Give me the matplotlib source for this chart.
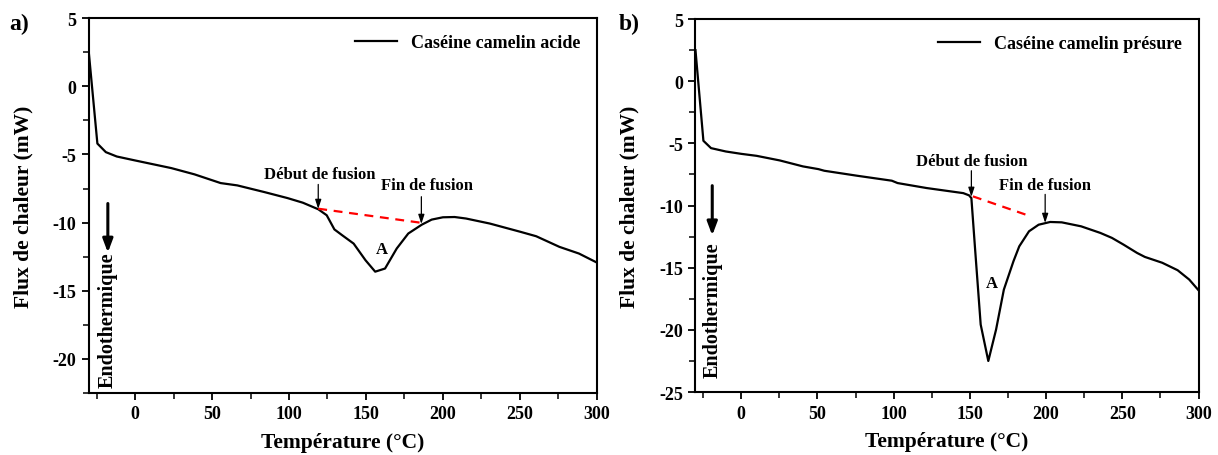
import matplotlib
matplotlib.use("Agg")
import matplotlib.pyplot as plt
from matplotlib.ticker import MultipleLocator

plt.rcParams["font.family"] = ["Liberation Serif", "DejaVu Serif"]
plt.rcParams["font.weight"] = "bold"
plt.rcParams["axes.unicode_minus"] = False

# Courbe a) : caséine camelin acide
temp_a = [-30, -24.5, -19, -11.9, 0, 23.5, 38.6, 55.6, 66.4, 84, 99, 109, 119,
          124.5, 129.5, 134.6, 142, 149.7, 156, 162.4, 170, 177.5, 186.3, 192.7,
          200, 207.6, 215, 230.5, 250.5, 260.6, 275.7, 288.4, 300]
flux_a = [2.4, -4.2, -4.83, -5.15, -5.44, -6.0, -6.46, -7.1, -7.27, -7.76, -8.2,
          -8.54, -9.02, -9.46, -10.5, -10.93, -11.54, -12.76, -13.6, -13.37, -11.9,
          -10.8, -10.15, -9.78, -9.61, -9.59, -9.7, -10.07, -10.68, -11.0, -11.78,
          -12.27, -12.93]

# Courbe b) : caséine camelin présure
temp_b = [-30, -24.8, -19.8, -10.1, 0, 10.1, 25.3, 40.5, 50.7, 54.5, 76, 98.8,
          102.6, 121.6, 145.7, 149.5, 151, 153.3, 157.1, 162.1, 167.2, 172.3,
          178.6, 182.4, 188.8, 195.1, 202.7, 210.3, 223, 235.6, 243.2, 250.8,
          259.7, 264.8, 276.2, 286.3, 293.9, 300]
flux_b = [2.5, -4.79, -5.38, -5.65, -5.84, -6.0, -6.37, -6.85, -7.07, -7.2, -7.6,
          -8.0, -8.19, -8.59, -9.0, -9.18, -9.4, -13.28, -19.57, -22.5, -19.97,
          -16.76, -14.48, -13.28, -12.07, -11.54, -11.32, -11.35, -11.67, -12.2,
          -12.6, -13.14, -13.81, -14.13, -14.6, -15.2, -15.95, -16.81]

# lignes de base (début -> fin de fusion)
base_a_x = [119, 185]
base_a_y = [-8.98, -10.0]
base_b_x = [152, 190]
base_b_y = [-9.26, -10.87]

fig = plt.figure(figsize=(12.18, 4.56), dpi=100)
ax1 = fig.add_axes([0.073, 0.136, 0.417, 0.822])
ax2 = fig.add_axes([0.571, 0.138, 0.413, 0.818])


def mise_en_forme(ax, ymin, ymax):
    ax.set_xlim(-30, 300)
    ax.set_ylim(ymin, ymax)
    ax.xaxis.set_major_locator(MultipleLocator(50))
    ax.xaxis.set_minor_locator(MultipleLocator(25))
    ax.yaxis.set_major_locator(MultipleLocator(5))
    ax.yaxis.set_minor_locator(MultipleLocator(2.5))
    ax.tick_params(which="major", direction="out", length=5, width=1.3, labelsize=13, pad=4)
    ax.tick_params(which="minor", direction="out", length=4, width=1.1)
    for s in ax.spines.values():
        s.set_linewidth(1.5)
    for lab in ax.get_xticklabels() + ax.get_yticklabels():
        lab.set_fontweight("bold")
    ax.set_xlabel("Température (°C)", fontsize=15.5, fontweight="bold", labelpad=7)
    ax.set_ylabel("Flux de chaleur (mW)", fontsize=15.5, fontweight="bold", labelpad=14)


def fleche(ax, x, y0, y1):
    ax.annotate("", xy=(x, y1), xytext=(x, y0),
                arrowprops=dict(arrowstyle="-|>,head_width=0.18,head_length=0.55",
                                color="black", lw=0.9, shrinkA=0, shrinkB=0))


# Panneau a
ax1.plot(temp_a, flux_a, color="black", lw=1.6, label="Caséine camelin acide")
ax1.plot(base_a_x, base_a_y, color="red", lw=1.6, ls=(0, (4, 3)))
mise_en_forme(ax1, -22.5, 5)
ax1.legend(loc="upper right", frameon=False, fontsize=13, handlelength=2.3,
           borderaxespad=0.5)
ax1.text(120, -6.4, "Début de fusion", fontsize=12, fontweight="bold", ha="center", va="center")
ax1.text(189.6, -7.27, "Fin de fusion", fontsize=12, fontweight="bold", ha="center", va="center")
ax1.text(160.3, -11.9, "A", fontsize=12, fontweight="bold", ha="center", va="center")
fleche(ax1, 119, -7.2, -9.0)
fleche(ax1, 186, -8.1, -10.1)
ax1.annotate("", xy=(-17.7, -12.2), xytext=(-17.7, -8.6),
             arrowprops=dict(arrowstyle="-|>,head_width=0.3,head_length=0.8",
                             color="black", lw=2.2, shrinkA=0, shrinkB=0))
ax1.text(-17.7, -17.1, "Endothermique", rotation=90, fontsize=14.5, fontweight="bold",
         ha="center", va="center")
fig.text(0.008, 0.935, "a)", fontsize=17, fontweight="bold")

# Panneau b
ax2.plot(temp_b, flux_b, color="black", lw=1.6, label="Caséine camelin présure")
ax2.plot(base_b_x, base_b_y, color="red", lw=1.6, ls=(0, (4, 3)))
mise_en_forme(ax2, -25, 5)
ax2.legend(loc="upper right", frameon=False, fontsize=13, handlelength=2.3,
           borderaxespad=0.5)
ax2.text(151.5, -6.45, "Début de fusion", fontsize=12, fontweight="bold", ha="center", va="center")
ax2.text(199, -8.33, "Fin de fusion", fontsize=12, fontweight="bold", ha="center", va="center")
ax2.text(164.7, -16.2, "A", fontsize=12, fontweight="bold", ha="center", va="center")
fleche(ax2, 151, -7.2, -9.3)
fleche(ax2, 199.4, -9.1, -11.4)
ax2.annotate("", xy=(-19, -12.4), xytext=(-19, -8.4),
             arrowprops=dict(arrowstyle="-|>,head_width=0.3,head_length=0.8",
                             color="black", lw=2.2, shrinkA=0, shrinkB=0))
ax2.text(-19, -18.3, "Endothermique", rotation=90, fontsize=14.5, fontweight="bold",
         ha="center", va="center")
fig.text(0.508, 0.935, "b)", fontsize=17, fontweight="bold")

fig.savefig("out.png", dpi=100)
